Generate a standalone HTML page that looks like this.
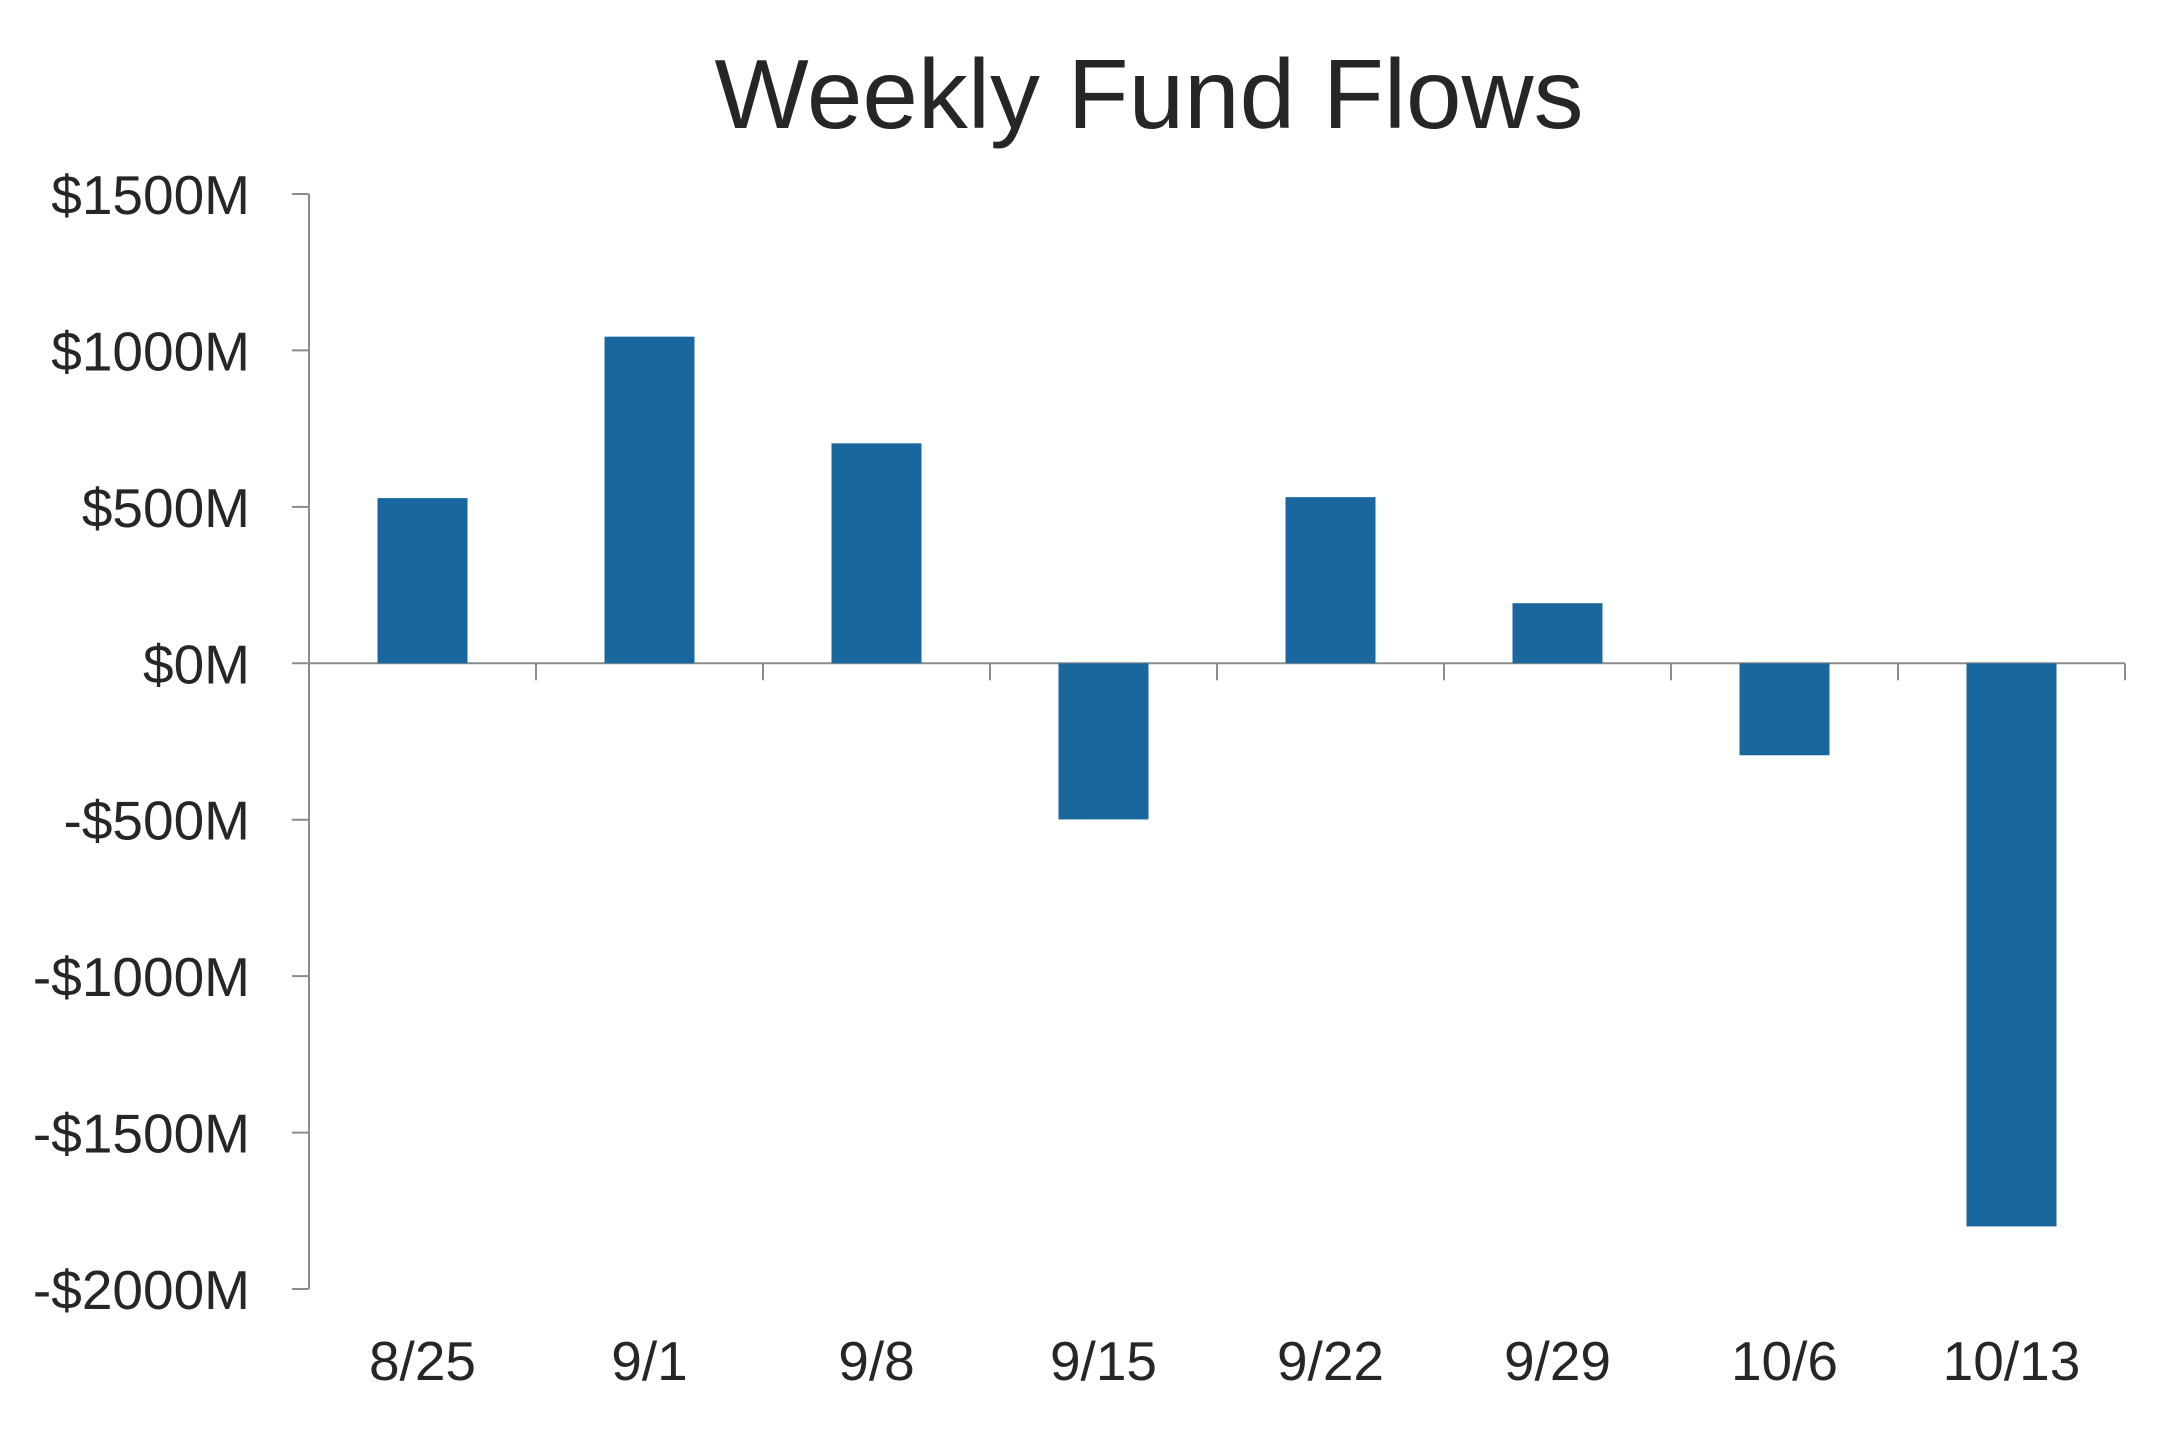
<!DOCTYPE html>
<html><head><meta charset="utf-8"><style>
html,body{margin:0;padding:0;background:#fff;}
svg{display:block;font-family:"Liberation Sans",sans-serif;}
</style></head><body>
<svg id="chart" width="2163" height="1430" viewBox="0 0 2163 1430">
<text x="1149" y="128" text-anchor="middle" font-size="98" fill="#262626" textLength="869" lengthAdjust="spacingAndGlyphs">Weekly Fund Flows</text>
<g id="axes"></g>
<g id="bars"></g>
</svg>
<script>
const categories = ["8/25","9/1","9/8","9/15","9/22","9/29","10/6","10/13"];
const flows = [528, 1044, 703, -499, 531, 192, -294, -1800];
const yTicks = [1500, 1000, 500, 0, -500, -1000, -1500, -2000];
const yTickLabels = ["$1500M","$1000M","$500M","$0M","-$500M","-$1000M","-$1500M","-$2000M"];

const NS = "http://www.w3.org/2000/svg";
const plotLeft = 309, plotRight = 2136;
const yTop = 194, yBottom = 1289, vMax = 1500, vMin = -2000;
function y(v){ return yTop + (vMax - v) / (vMax - vMin) * (yBottom - yTop); }
const band = 227;
function xStart(i){ return plotLeft + i * band; }
function mk(tag, attrs){ const e = document.createElementNS(NS, tag); for (const k in attrs) e.setAttribute(k, attrs[k]); return e; }

const axes = document.getElementById("axes");
const bars = document.getElementById("bars");
const axisColor = "#8c8c8c";

let yAxis = mk("line", {x1: plotLeft, y1: yTop, x2: plotLeft, y2: yBottom, stroke: axisColor, "stroke-width": 2});


axes.appendChild(yAxis);

yTicks.forEach((t, i) => {
  const ty = y(t);
  const tick = mk("line", {x1: plotLeft - 17, y1: ty, x2: plotLeft, y2: ty, stroke: axisColor, "stroke-width": 2});
  
  
  axes.appendChild(tick);
  const lab = mk("text", {x: 250, y: ty + 20, "text-anchor": "end", "font-size": 55, fill: "#262626"});
  lab.textContent = yTickLabels[i];
  
  
  axes.appendChild(lab);
});

const zeroY = y(0);
const xAxis = mk("line", {x1: plotLeft, y1: zeroY, x2: xStart(categories.length), y2: zeroY, stroke: axisColor, "stroke-width": 2});


axes.appendChild(xAxis);

for (let i = 1; i <= categories.length; i++) {
  const tx = xStart(i);
  const tick = mk("line", {x1: tx, y1: zeroY, x2: tx, y2: zeroY + 17, stroke: axisColor, "stroke-width": 2});
  
  
  axes.appendChild(tick);
}

categories.forEach((c, i) => {
  const cx = xStart(i) + band / 2;
  const v = flows[i];
  const top = Math.min(y(v), zeroY), h = Math.abs(y(v) - zeroY);
  const bar = mk("rect", {x: cx - 45, y: top, width: 90, height: h, fill: "#1a67a0"});
  
  
  bars.appendChild(bar);
  const lab = mk("text", {x: cx, y: 1380, "text-anchor": "middle", "font-size": 55, fill: "#262626"});
  lab.textContent = c;
  
  
  axes.appendChild(lab);
});
</script>
</body></html>
